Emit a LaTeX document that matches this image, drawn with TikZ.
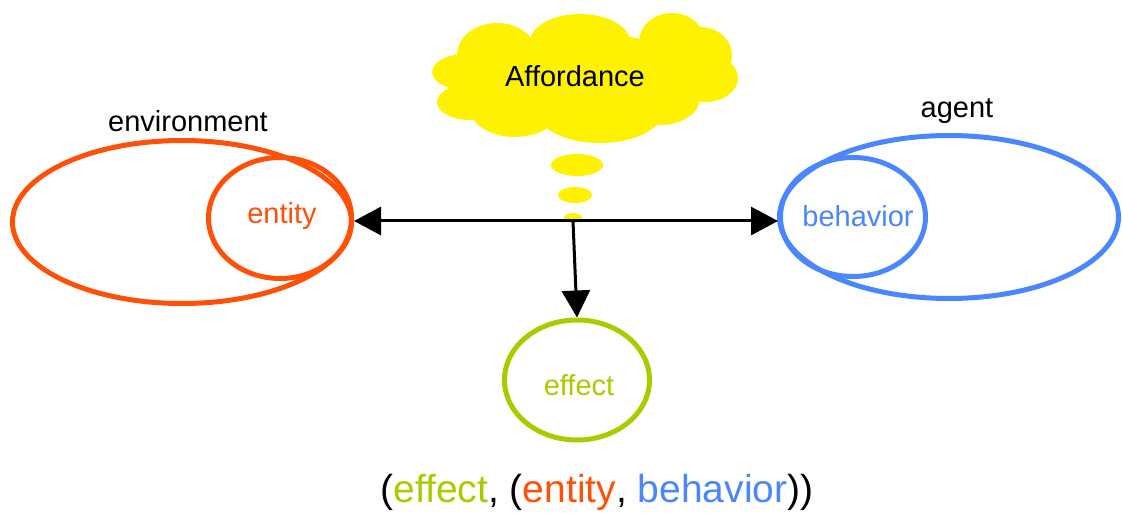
\documentclass[tikz,border=0pt]{standalone}
\usepackage{fontspec}
\setmainfont{Liberation Sans}
\usetikzlibrary{arrows.meta,shapes.geometric}
\definecolor{envorange}{HTML}{FF5008}
\definecolor{agentblue}{HTML}{4A86FF}
\definecolor{effgreen}{HTML}{A8CC00}
\tikzset{
  ring/.style={ellipse,draw,line width=5,inner sep=0},
  lbl/.style={font=\fontsize{29}{34}\selectfont},
  bubble/.style={ellipse,fill=yellow,inner sep=0},
  pointer/.style={line width=3,-{Triangle[length=27,width=28]}}
}
\begin{document}
\begin{tikzpicture}[x=1pt,y=-1pt]
		\useasboundingbox (0,0) rectangle (1122,513);
		% thought cloud, built from puffs
		\foreach \cx/\cy/\rx/\ry in {497/55/40/32, 580/42/50/28, 672/42/33/29,
			700/55/32/28, 705/78/33/24, 660/98/40/27, 600/112/62/31,
			515/108/45/29, 470/102/33/18, 465/72/33/18, 585/78/110/45}
			\fill [yellow] (\cx,\cy) ellipse [x radius=\rx, y radius=\ry];
		\node [lbl] (afford) at (575,76) {Affordance};
		\node [bubble,minimum width=52,minimum height=22] (b1) at (577,165) {};
		\node [bubble,minimum width=34,minimum height=16] (b2) at (575,195) {};
		\node [bubble,minimum width=18,minimum height=10] (b3) at (573,218) {};
		% environment side
		\node [ring,envorange,minimum width=339,minimum height=163] (env) at (182,222) {};
		\node [ring,envorange,minimum width=143,minimum height=121] (entity) at (280,218) {};
		\node [lbl,envorange] (entitytxt) at (282,216) {entity};
		\node [lbl] (envtxt) at (188,121) {environment};
		% agent side
		\node [ring,agentblue,minimum width=339,minimum height=163] (agent) at (949,217) {};
		\node [ring,agentblue,minimum width=145,minimum height=119] (behavior) at (853,217) {};
		\node [lbl,agentblue] (behaviortxt) at (858,216) {behavior};
		\node [lbl] (agenttxt) at (957,111) {agent};
		% effect
		\node [ring,effgreen,minimum width=145,minimum height=120] (effect) at (577,380) {};
		\node [lbl,effgreen] (effecttxt) at (579,385) {effect};
		% arrows
		\coordinate (hub) at (573,221);
		\draw [pointer] (hub) to (hub -| entity.east);
		\draw [pointer] (hub) to (hub -| behavior.west);
		\draw [pointer] (hub) to (effect.north);
		% tuple
		\node [font=\fontsize{39}{46}\selectfont] (tuple) at (597,492) {(\textcolor{effgreen}{effect}, (\textcolor{envorange}{entity}, \textcolor{agentblue}{behavior}))};
	\end{tikzpicture}
\end{document}
